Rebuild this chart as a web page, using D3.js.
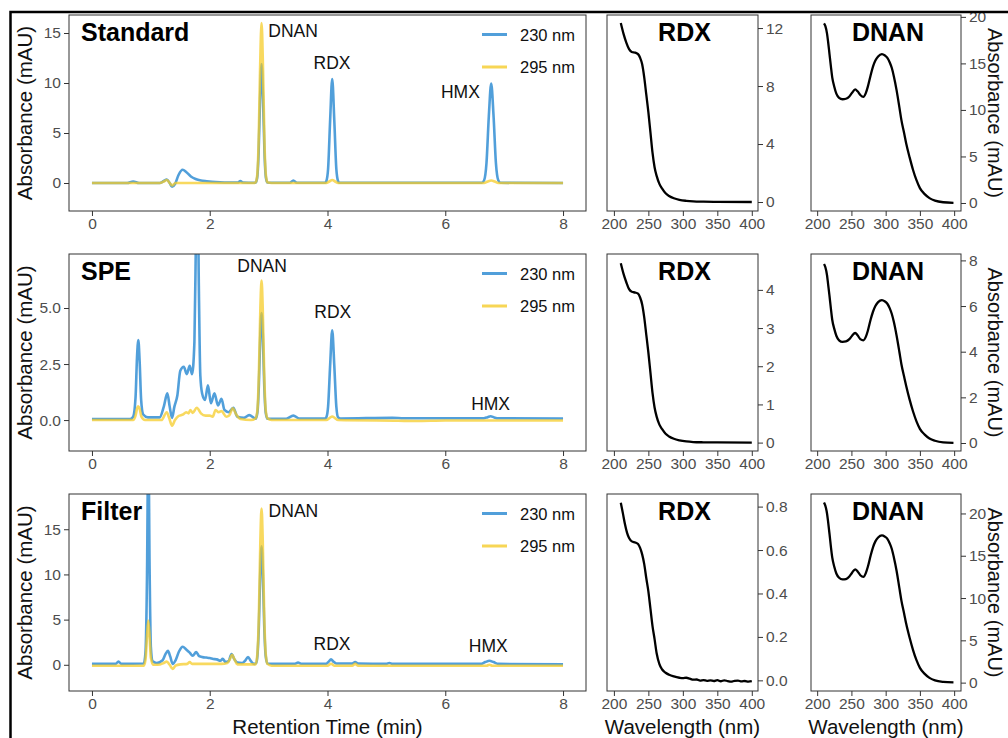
<!DOCTYPE html>
<html>
<head>
<meta charset="utf-8">
<script src="https://cdn.jsdelivr.net/npm/d3@7"></script>
<style>
  body { margin: 0; background: #fff; }
  svg { display: block; font-family: "Liberation Sans", Arial, sans-serif; }
</style>
</head>
<body>
<svg id="chart" width="1008" height="738"></svg>
<script>
// ---- chromatograms: [retention time (min), absorbance (mAU)]
const standard230 = [[0,0],[0.6,0],[0.7,0.15],[0.8,0],[1.15,0],[1.22,0.2],[1.27,0.35],[1.32,0],[1.36,-0.38],[1.41,-0.1],[1.47,0.8],[1.54,1.32],[1.6,1.1],[1.68,0.65],[1.76,0.4],[1.85,0.25],[1.95,0.18],[2.1,0.1],[2.4,0.05],[2.48,0.05],[2.52,0.2],[2.56,0.05],[2.75,0.02],[2.78,0.05],[2.805,0.5],[2.83,3.0],[2.855,8.4],[2.88,11.9],[2.905,8.4],[2.93,3.0],[2.955,0.5],[2.98,0.05],[3.05,0.02],[3.36,0.02],[3.42,0.25],[3.48,0.02],[3.96,0.02],[3.98,0.18],[4.01,1.4],[4.045,6.3],[4.08,10.4],[4.115,6.3],[4.15,1.4],[4.18,0.18],[4.2,0.02],[6.62,0.02],[6.66,0.28],[6.7,2.0],[6.74,6.7],[6.78,9.95],[6.82,6.7],[6.86,2.0],[6.9,0.28],[6.94,0.02],[8,0]];
const standard295 = [[0,0],[1.15,0],[1.22,0.15],[1.27,0.3],[1.32,0],[1.36,-0.25],[1.42,0],[2.75,0],[2.78,0.07],[2.805,0.7],[2.83,4.0],[2.855,11.4],[2.88,16.0],[2.905,11.4],[2.93,4.0],[2.955,0.7],[2.98,0.07],[3.05,0],[3.98,0],[4.03,0.15],[4.08,0.3],[4.13,0.15],[4.18,0],[6.66,0],[6.72,0.15],[6.78,0.25],[6.84,0.15],[6.9,0],[8,0]];

const spe230 = [[0,0.05],[0.65,0.05],[0.7,0.15],[0.74,1.0],[0.765,2.8],[0.787,3.57],[0.81,2.6],[0.835,0.9],[0.87,0.25],[0.95,0.12],[1.15,0.12],[1.22,0.6],[1.28,1.19],[1.32,0.6],[1.36,0.1],[1.4,0.6],[1.45,1.1],[1.5,2.2],[1.56,2.38],[1.61,2.05],[1.66,2.42],[1.7,2.05],[1.74,3.5],[1.765,8.0],[1.79,12.0],[1.815,6.0],[1.84,2.0],[1.87,1.2],[1.92,0.9],[1.97,1.55],[2.02,0.75],[2.08,1.2],[2.14,0.65],[2.2,0.95],[2.25,0.45],[2.32,0.35],[2.4,0.55],[2.47,0.15],[2.58,0.1],[2.67,0.22],[2.76,0.08],[2.78,0.06],[2.81,0.35],[2.835,1.6],[2.86,3.9],[2.88,4.78],[2.9,3.9],[2.925,1.6],[2.95,0.35],[2.98,0.06],[3.3,0.06],[3.42,0.2],[3.52,0.07],[3.96,0.07],[3.98,0.12],[4.01,0.6],[4.045,2.45],[4.08,4.0],[4.115,2.45],[4.15,0.6],[4.18,0.12],[4.22,0.07],[5.1,0.1],[5.3,0.08],[6.65,0.08],[6.72,0.13],[6.77,0.17],[6.83,0.12],[6.9,0.08],[8,0.07]];
const spe295 = [[0,0],[0.7,0],[0.74,0.2],[0.77,0.55],[0.787,0.62],[0.81,0.5],[0.84,0.15],[0.9,0],[1.18,0],[1.27,0.35],[1.31,0.1],[1.36,-0.25],[1.41,0],[1.47,0.18],[1.55,0.25],[1.6,0.35],[1.64,0.3],[1.67,0.45],[1.71,0.32],[1.78,0.55],[1.85,0.3],[1.93,0.2],[2.0,0.2],[2.05,0.15],[2.1,0.45],[2.15,0.35],[2.2,0.4],[2.28,0.15],[2.33,0.2],[2.39,0.52],[2.45,0.25],[2.52,0.05],[2.7,0],[2.78,0.08],[2.81,0.45],[2.835,2.1],[2.86,5.0],[2.88,6.22],[2.9,5.0],[2.925,2.1],[2.95,0.45],[2.98,0.08],[3.05,0],[3.98,0],[4.04,0.1],[4.08,0.16],[4.12,0.1],[4.18,0],[5.2,-0.03],[5.5,-0.04],[6.0,-0.02],[8,-0.02]];

const filter230 = [[0,0.1],[0.4,0.1],[0.45,0.35],[0.5,0.1],[0.88,0.15],[0.91,1.5],[0.935,10],[0.957,25],[0.98,10],[1.0,2.0],[1.03,0.4],[1.1,0.2],[1.2,0.5],[1.25,1.2],[1.29,1.55],[1.33,0.9],[1.37,0.1],[1.42,0.5],[1.48,1.5],[1.54,2.0],[1.6,1.7],[1.66,1.35],[1.71,1.0],[1.77,1.4],[1.82,0.95],[1.88,0.85],[1.94,0.8],[2.0,0.75],[2.06,0.65],[2.12,0.6],[2.18,0.45],[2.22,0.65],[2.27,0.3],[2.32,0.4],[2.37,1.2],[2.42,0.6],[2.47,0.25],[2.55,0.2],[2.6,0.45],[2.65,0.85],[2.7,0.4],[2.75,0.1],[2.79,0.2],[2.81,1.0],[2.835,4.4],[2.86,10.6],[2.88,13.1],[2.9,10.6],[2.925,4.4],[2.95,1.0],[2.98,0.15],[3.1,0.1],[3.45,0.12],[3.5,0.25],[3.55,0.12],[3.98,0.12],[4.02,0.35],[4.06,0.6],[4.1,0.35],[4.15,0.15],[4.42,0.15],[4.47,0.3],[4.52,0.15],[5.0,0.1],[5.05,0.2],[5.1,0.1],[6.6,0.1],[6.68,0.3],[6.75,0.45],[6.82,0.3],[6.9,0.1],[8,0.05]];
const filter295 = [[0,-0.1],[0.88,-0.1],[0.91,0.6],[0.935,3.2],[0.957,4.9],[0.98,3.0],[1.0,0.8],[1.04,0],[1.12,0],[1.22,0.2],[1.27,0.35],[1.32,0],[1.37,-0.45],[1.42,-0.1],[1.5,0.05],[1.62,0.1],[1.66,0.3],[1.7,0.1],[2.2,0.1],[2.3,0.2],[2.34,0.6],[2.38,1.1],[2.42,0.6],[2.47,0.05],[2.78,0.05],[2.81,1.3],[2.835,5.6],[2.86,13.8],[2.88,17.3],[2.9,13.8],[2.925,5.6],[2.95,1.3],[2.98,0.1],[3.05,-0.1],[4.0,-0.1],[4.06,0.12],[4.12,-0.1],[4.42,-0.1],[4.47,0.1],[4.52,-0.1],[6.7,-0.1],[6.75,0],[6.8,-0.1],[8,-0.1]];

// ---- UV spectra: [wavelength (nm), absorbance (mAU)]
const rdxStandard = [[210,12.35],[214,11.6],[218,11.0],[222,10.55],[226,10.35],[231,10.3],[235,10.2],[238,9.95],[241,9.5],[244,8.6],[247,7.4],[250,6.2],[253,4.8],[256,3.4],[259,2.4],[262,1.8],[266,1.25],[270,0.92],[275,0.6],[280,0.42],[287,0.26],[295,0.15],[305,0.08],[315,0.04],[330,0.02],[350,0.01],[400,0]];
const rdxSpe = [[210,4.7],[214,4.42],[218,4.2],[222,4.02],[226,3.95],[231,3.93],[235,3.9],[238,3.8],[241,3.62],[244,3.28],[247,2.82],[250,2.36],[253,1.83],[256,1.3],[259,0.92],[262,0.68],[266,0.47],[270,0.35],[275,0.23],[280,0.16],[287,0.1],[295,0.06],[305,0.03],[315,0.015],[330,0.008],[350,0.004],[400,0]];
const rdxFilter = [[210,0.818],[213,0.77],[216,0.72],[219,0.68],[222,0.655],[226,0.64],[231,0.635],[235,0.628],[238,0.61],[241,0.58],[244,0.535],[247,0.47],[250,0.41],[253,0.33],[256,0.25],[259,0.19],[262,0.125],[266,0.075],[270,0.05],[275,0.035],[280,0.026],[287,0.018],[295,0.012],[300,0.01],[305,0.012],[310,0.008],[315,0.003],[320,0.004],[325,-0.001],[330,0.001],[335,-0.002],[340,0],[345,-0.003],[350,0.001],[355,-0.004],[360,0],[365,-0.003],[370,-0.006],[375,-0.002],[380,-0.001],[385,-0.005],[390,-0.003],[395,-0.006],[400,-0.004]];

const dnanStandard = [[210,19.3],[212,19.0],[214.4,18.2],[216,17.3],[218,16.0],[220,14.7],[222,13.5],[225,12.5],[228,11.75],[232,11.3],[237,11.15],[242,11.2],[247,11.45],[251,11.85],[255.5,12.2],[259,12.0],[263,11.6],[267.5,11.4],[271,11.8],[274,12.5],[278,13.7],[281.5,14.65],[285,15.3],[289,15.75],[294.5,16.0],[299,15.85],[302.5,15.6],[306,15.1],[309,14.5],[312,13.6],[316,12.1],[320,10.3],[323,8.9],[327,7.5],[330,6.4],[335,4.9],[340,3.55],[345,2.45],[350,1.6],[357,0.95],[364,0.52],[372,0.25],[384,0.08],[399,0.02]];
const dnanSpe = [[210,7.84],[212,7.7],[214.4,7.35],[216,6.95],[218,6.45],[220,5.9],[222,5.4],[225,5.0],[228,4.7],[232,4.5],[237,4.43],[242,4.45],[247,4.55],[251,4.7],[255.5,4.82],[259,4.72],[263,4.55],[267.5,4.5],[271,4.65],[274,4.92],[278,5.4],[281.5,5.75],[285,6.0],[289,6.17],[294.5,6.26],[299,6.2],[302.5,6.1],[306,5.9],[309,5.65],[312,5.3],[316,4.7],[320,4.0],[323,3.45],[327,2.9],[330,2.5],[335,1.9],[340,1.38],[345,0.95],[350,0.62],[357,0.37],[364,0.2],[372,0.1],[384,0.03],[399,0.01]];
const dnanFilter = [[210,21.3],[212,20.9],[214.4,20.0],[216,19.0],[218,17.6],[220,16.1],[222,14.8],[225,13.7],[228,12.9],[232,12.4],[237,12.2],[242,12.25],[247,12.55],[251,13.0],[255.5,13.4],[259,13.15],[263,12.7],[267.5,12.5],[271,12.95],[274,13.7],[278,15.0],[281.5,16.0],[285,16.7],[289,17.15],[294.5,17.4],[299,17.25],[302.5,17.0],[306,16.45],[309,15.8],[312,14.8],[316,13.2],[320,11.2],[323,9.7],[327,8.15],[330,6.95],[335,5.3],[340,3.85],[345,2.65],[350,1.75],[357,1.03],[364,0.56],[372,0.27],[384,0.09],[399,0.02]];

// ---- peak labels (placed in data units)
const standardLabels = [{text:'DNAN', t:2.995, v:14.6, anchor:'start'}, {text:'RDX', t:4.077, v:11.4, anchor:'middle'}, {text:'HMX', t:6.257, v:8.5, anchor:'middle'}];
const speLabels = [{text:'DNAN', t:2.89, v:6.61, anchor:'middle'}, {text:'RDX', t:4.09, v:4.55, anchor:'middle'}, {text:'HMX', t:6.77, v:0.45, anchor:'middle'}];
const filterLabels = [{text:'DNAN', t:3.0, v:16.4, anchor:'start'}, {text:'RDX', t:4.077, v:1.67, anchor:'middle'}, {text:'HMX', t:6.73, v:1.44, anchor:'middle'}];

const timeTicks = [0, 2, 4, 6, 8];
const waveTicks = [200, 250, 300, 350, 400];
const legendItems = ['230 nm', '295 nm'];

const blue = '#3e95d6';
const yellow = '#f5cc2a';
const axisGrey = '#4d4d4d';

const rows = [
  {title:'Standard', top:15, bottom:211, chromY:[-2.8,16.8], chromTicks:[0,5,10,15], chromFmt:d3.format('d'),
   c230:standard230, c295:standard295, labels:standardLabels,
   rdx:rdxStandard, rdxY:[-0.62,12.9], rdxTicks:[0,4,8,12], rdxFmt:d3.format('d'),
   dnan:dnanStandard, dnanY:[-0.86,20.2], dnanTicks:[0,5,10,15,20]},
  {title:'SPE', top:254, bottom:451, chromY:[-1.38,7.41], chromTicks:[0,2.5,5], chromFmt:d3.format('.1f'),
   c230:spe230, c295:spe295, labels:speLabels,
   rdx:rdxSpe, rdxY:[-0.22,4.94], rdxTicks:[0,1,2,3,4], rdxFmt:d3.format('d'),
   dnan:dnanSpe, dnanY:[-0.35,8.28], dnanTicks:[0,2,4,6,8]},
  {title:'Filter', top:494, bottom:691, chromY:[-2.9,18.9], chromTicks:[0,5,10,15], chromFmt:d3.format('d'),
   c230:filter230, c295:filter295, labels:filterLabels,
   rdx:rdxFilter, rdxY:[-0.049,0.858], rdxTicks:[0,0.2,0.4,0.6,0.8], rdxFmt:d3.format('.1f'),
   dnan:dnanFilter, dnanY:[-0.99,22.3], dnanTicks:[0,5,10,15,20]}
];

const svg = d3.select('#chart');
const defs = svg.append('defs');

const chromX = d3.scaleLinear().domain([-0.39, 8.39]).range([69, 586]);
const rdxX = d3.scaleLinear().domain([190, 409]).range([607, 758]);
const dnanX = d3.scaleLinear().domain([191, 410]).range([811, 961]);

function styleAxis(g) {
  g.select('.domain').remove();
  g.selectAll('.tick line').attr('stroke', '#333');
  g.selectAll('.tick text').attr('fill', axisGrey).style('font-size', '15.5px')
    .style('font-family', '"Liberation Sans", Arial, sans-serif');
}

function panelFrame(x, y, id) {
  const [x0, x1] = x.range();
  const [y1, y0] = y.range();
  defs.append('clipPath').attr('id', id).append('rect')
    .attr('x', x0).attr('y', y0).attr('width', x1 - x0).attr('height', y1 - y0);
}

function border(x, y) {
  const [x0, x1] = x.range();
  const [y1, y0] = y.range();
  svg.append('rect').attr('x', x0).attr('y', y0).attr('width', x1 - x0).attr('height', y1 - y0)
    .attr('fill', 'none').attr('stroke', '#333').attr('stroke-width', 1);
}

rows.forEach((row, i) => {
  // ---------- chromatogram
  const y = d3.scaleLinear().domain(row.chromY).range([row.bottom, row.top]);
  panelFrame(chromX, y, 'clipC' + i);
  const line = d3.line().x(d => chromX(d[0])).y(d => y(d[1])).curve(d3.curveMonotoneX);
  const g = svg.append('g').attr('clip-path', `url(#clipC${i})`);
  g.append('path').datum(row.c230).attr('d', line).attr('fill', 'none')
    .attr('stroke', blue).attr('stroke-width', 2.6).attr('stroke-opacity', 0.9).attr('stroke-linejoin', 'round');
  g.append('path').datum(row.c295).attr('d', line).attr('fill', 'none')
    .attr('stroke', yellow).attr('stroke-width', 2.6).attr('stroke-opacity', 0.75).attr('stroke-linejoin', 'round');
  border(chromX, y);

  svg.append('g').attr('transform', `translate(69,0)`)
    .call(d3.axisLeft(y).tickValues(row.chromTicks).tickFormat(row.chromFmt).tickSize(5).tickPadding(3))
    .call(styleAxis);
  svg.append('g').attr('transform', `translate(0,${row.bottom})`)
    .call(d3.axisBottom(chromX).tickValues(timeTicks).tickFormat(d3.format('d')).tickSize(5).tickPadding(2))
    .call(styleAxis);

  svg.append('text').attr('x', 81).attr('y', row.top + 26)
    .style('font-size', '25px').style('font-weight', 'bold').text(row.title);

  svg.append('g').selectAll('text').data(row.labels).join('text')
    .attr('x', d => chromX(d.t)).attr('y', d => y(d.v)).attr('text-anchor', d => d.anchor)
    .style('font-size', '17.5px').attr('fill', '#111').text(d => d.text);

  const leg = svg.append('g');
  legendItems.forEach((lab, k) => {
    const ly = row.top + 19.5 + k * 32.5;
    leg.append('line').attr('x1', 482).attr('x2', 507).attr('y1', ly).attr('y2', ly)
      .attr('stroke', k === 0 ? blue : yellow).attr('stroke-width', 3)
      .attr('stroke-opacity', k === 0 ? 0.9 : 0.8);
    leg.append('text').attr('x', 520).attr('y', ly + 6).style('font-size', '16.5px').attr('fill', '#111').text(lab);
  });

  svg.append('text')
    .attr('transform', `translate(32,${(row.top + row.bottom) / 2}) rotate(-90)`)
    .attr('text-anchor', 'middle').style('font-size', '20.5px').attr('fill', '#111')
    .text('Absorbance (mAU)');

  // ---------- spectra
  const spectra = [
    {x: rdxX, data: row.rdx, dom: row.rdxY, ticks: row.rdxTicks, fmt: row.rdxFmt, name: 'RDX'},
    {x: dnanX, data: row.dnan, dom: row.dnanY, ticks: row.dnanTicks, fmt: d3.format('d'), name: 'DNAN'}
  ];
  spectra.forEach((s, j) => {
    const sy = d3.scaleLinear().domain(s.dom).range([row.bottom, row.top]);
    panelFrame(s.x, sy, `clipS${i}_${j}`);
    const sl = d3.line().x(d => s.x(d[0])).y(d => sy(d[1])).curve(d3.curveMonotoneX);
    svg.append('g').attr('clip-path', `url(#clipS${i}_${j})`)
      .append('path').datum(s.data).attr('d', sl).attr('fill', 'none')
      .attr('stroke', '#000').attr('stroke-width', 2.3).attr('stroke-linejoin', 'round');
    border(s.x, sy);
    const [sx0, sx1] = s.x.range();
    svg.append('g').attr('transform', `translate(${sx1},0)`)
      .call(d3.axisRight(sy).tickValues(s.ticks).tickFormat(s.fmt).tickSize(5).tickPadding(3))
      .call(styleAxis);
    svg.append('g').attr('transform', `translate(0,${row.bottom})`)
      .call(d3.axisBottom(s.x).tickValues(waveTicks).tickSize(5).tickPadding(2))
      .call(styleAxis);
    svg.append('text').attr('x', (sx0 + sx1) / 2 + 2).attr('y', row.top + 26)
      .attr('text-anchor', 'middle').style('font-size', '25px').style('font-weight', 'bold').text(s.name);
  });

  svg.append('text')
    .attr('transform', `translate(988,${(row.top + row.bottom) / 2}) rotate(90)`)
    .attr('text-anchor', 'middle').style('font-size', '20px').attr('fill', '#111')
    .text('Absorbance (mAU)');
});

// x-axis titles
svg.append('text').attr('x', 327.5).attr('y', 734).attr('text-anchor', 'middle')
  .style('font-size', '20.5px').attr('fill', '#111').text('Retention Time (min)');
[rdxX, dnanX].forEach(x => {
  const [a, b] = x.range();
  svg.append('text').attr('x', (a + b) / 2).attr('y', 734).attr('text-anchor', 'middle')
    .style('font-size', '20.5px').attr('fill', '#111').text('Wavelength (nm)');
});

// outer frame
svg.append('path').attr('d', 'M10.5,760 V12 H1020').attr('fill', 'none')
  .attr('stroke', '#000').attr('stroke-width', 2.5);
</script>
</body>
</html>
